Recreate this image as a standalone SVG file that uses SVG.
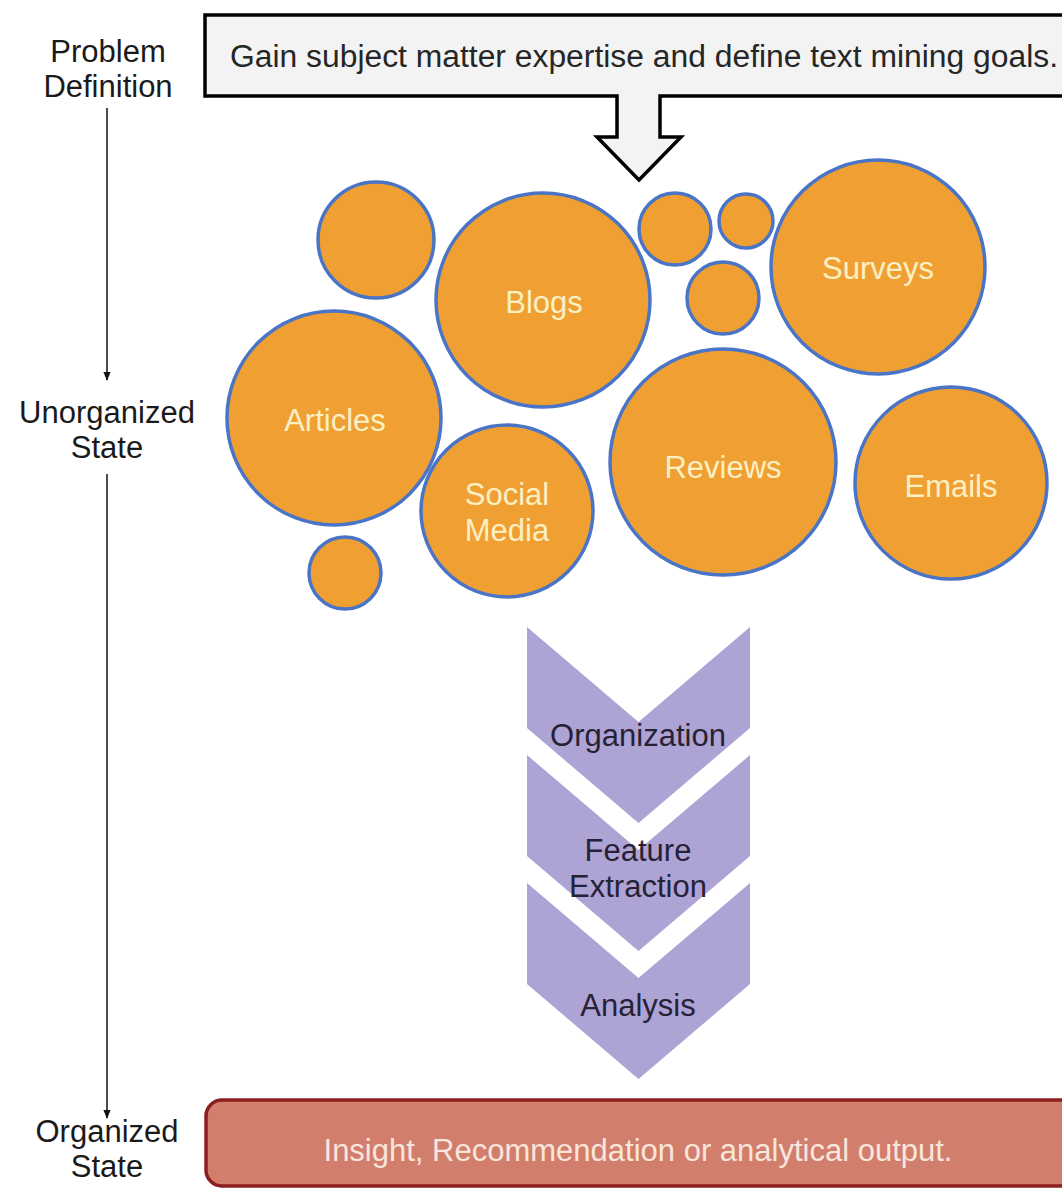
<svg xmlns="http://www.w3.org/2000/svg" width="1062" height="1188" viewBox="0 0 1062 1188">
<style>
text{font-family:"Liberation Sans",Arial,sans-serif;font-size:31px;text-anchor:middle}
.lbl{fill:#1a1a1a}
.bub{fill:#f0a032;stroke:#4a74c6;stroke-width:3.5}
.bt{fill:#fbefc4}
.chev{fill:#aea3d5}
.ct{fill:#262236}
.conn{stroke:#111;stroke-width:1.5;fill:none}
</style>
<defs>
<marker id="ah" viewBox="0 0 10 10" refX="9" refY="5" markerWidth="9" markerHeight="9" markerUnits="userSpaceOnUse" orient="auto">
<path d="M0,1 L10,5 L0,9 Z" fill="#111"/>
</marker>
</defs>

<g id="label-problem">
<text class="lbl" x="108" y="62">Problem</text>
<text class="lbl" x="108" y="97">Definition</text>
</g>
<g id="label-unorganized">
<text class="lbl" x="107" y="423">Unorganized</text>
<text class="lbl" x="107" y="458">State</text>
</g>
<g id="label-organized">
<text class="lbl" x="107" y="1142">Organized</text>
<text class="lbl" x="107" y="1177">State</text>
</g>

<g id="connectors">
<line class="conn" x1="107" y1="108" x2="107" y2="380" marker-end="url(#ah)"/>
<line class="conn" x1="107" y1="474" x2="107" y2="1118" marker-end="url(#ah)"/>
</g>

<g id="goal">
<path d="M205,15 H1070 V96 H660 V137 H681 L639,180 L597,137 H617 V96 H205 Z" fill="#f3f3f3" stroke="#000" stroke-width="3.5" stroke-linejoin="miter"/>
<text x="644" y="67" fill="#262626" textLength="828" lengthAdjust="spacingAndGlyphs">Gain subject matter expertise and define text mining goals.</text>
</g>

<g id="bubble-small-1"><circle class="bub" cx="376" cy="240" r="58"/></g>
<g id="bubble-blogs"><circle class="bub" cx="543" cy="300" r="107"/><text class="bt" x="544" y="313">Blogs</text></g>
<g id="bubble-articles"><circle class="bub" cx="334" cy="418" r="107"/><text class="bt" x="335" y="431">Articles</text></g>
<g id="bubble-social"><circle class="bub" cx="507" cy="511" r="86"/><text class="bt" x="507" y="505">Social</text><text class="bt" x="507" y="541">Media</text></g>
<g id="bubble-small-2"><circle class="bub" cx="345" cy="573" r="36"/></g>
<g id="bubble-small-3"><circle class="bub" cx="675" cy="229" r="36"/></g>
<g id="bubble-small-4"><circle class="bub" cx="746" cy="221" r="27"/></g>
<g id="bubble-small-5"><circle class="bub" cx="723" cy="298" r="36"/></g>
<g id="bubble-surveys"><circle class="bub" cx="878" cy="267" r="107"/><text class="bt" x="878" y="279">Surveys</text></g>
<g id="bubble-reviews"><circle class="bub" cx="723" cy="462" r="113"/><text class="bt" x="723" y="478">Reviews</text></g>
<g id="bubble-emails"><circle class="bub" cx="951" cy="483" r="96"/><text class="bt" x="951" y="497">Emails</text></g>

<g id="step-organization">
<path class="chev" d="M527,627 L638.5,722 L750,627 V728 L638.5,823 L527,728 Z"/>
<text class="ct" x="638" y="746">Organization</text>
</g>
<g id="step-feature">
<path class="chev" d="M527,755 L638.5,850 L750,755 V856 L638.5,951 L527,856 Z"/>
<text class="ct" x="638" y="861">Feature</text>
<text class="ct" x="638" y="897">Extraction</text>
</g>
<g id="step-analysis">
<path class="chev" d="M527,883 L638.5,978 L750,883 V984 L638.5,1079 L527,984 Z"/>
<text class="ct" x="638" y="1016">Analysis</text>
</g>

<g id="output">
<rect x="206" y="1100" width="880" height="86" rx="16" fill="#d27e6c" stroke="#8c1f1f" stroke-width="3.5"/>
<text x="638" y="1161" fill="#f8e6dc">Insight, Recommendation or analytical output.</text>
</g>
</svg>
